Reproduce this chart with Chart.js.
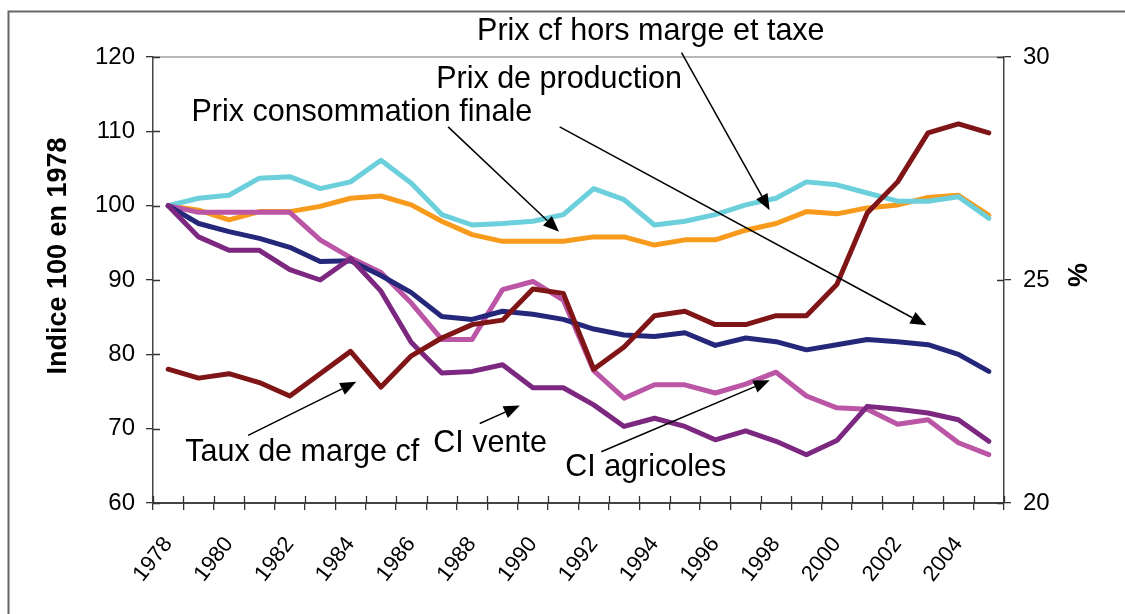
<!DOCTYPE html>
<html lang="fr">
<head>
<meta charset="utf-8">
<title>Prix et taux de marge</title>
<script src="https://cdn.jsdelivr.net/npm/chart.js@4.4.1/dist/chart.umd.min.js"></script>
<style>
  html, body { margin: 0; padding: 0; background: #fff; }
  #chart { display: block; }
</style>
</head>
<body>
<canvas id="chart" width="1125" height="614"></canvas>
<script>
/* ---------- series (indice 100 en 1978, taux de marge en %) ---------- */

const years = [1978, 1979, 1980, 1981, 1982, 1983, 1984, 1985, 1986, 1987,
  1988, 1989, 1990, 1991, 1992, 1993, 1994, 1995, 1996, 1997,
  1998, 1999, 2000, 2001, 2002, 2003, 2004, 2005];

const prixCfHorsMarge = [100, 101.0, 101.4, 103.7, 103.9, 102.3, 103.2, 106.1, 103.0, 98.8,
  97.4, 97.6, 97.9, 98.8, 102.3, 100.8, 97.4, 97.9, 98.8, 100.1,
  101.0, 103.2, 102.8, 101.7, 100.6, 100.6, 101.2, 98.3];

const prixConsoFinale = [100, 99.4, 98.1, 99.2, 99.2, 99.9, 101.0, 101.3, 100.1, 97.9,
  96.1, 95.2, 95.2, 95.2, 95.8, 95.8, 94.7, 95.4, 95.4, 96.7,
  97.6, 99.2, 98.9, 99.7, 100.1, 101.1, 101.4, 98.7];

const prixProduction = [100, 97.6, 96.5, 95.6, 94.4, 92.5, 92.6, 90.6, 88.3, 85.1,
  84.7, 85.8, 85.4, 84.7, 83.4, 82.6, 82.4, 82.9, 81.2, 82.2,
  81.7, 80.6, 81.3, 82.0, 81.7, 81.3, 80.0, 77.7];

const ciAgricoles = [100, 99.1, 99.1, 99.1, 99.1, 95.4, 93.0, 91.0, 86.9, 82.0,
  82.0, 88.7, 89.8, 87.3, 77.8, 74.1, 75.9, 75.9, 74.8, 76.0,
  77.6, 74.4, 72.8, 72.6, 70.6, 71.2, 68.1, 66.5];

const ciVente = [100, 95.8, 94.0, 94.0, 91.4, 90.0, 92.9, 88.5, 81.6, 77.5,
  77.7, 78.6, 75.5, 75.5, 73.2, 70.3, 71.4, 70.3, 68.5, 69.7,
  68.3, 66.5, 68.4, 73.0, 72.6, 72.1, 71.2, 68.3];

const tauxMargeCf = [23.0, 22.8, 22.9, 22.7, 22.4, 22.9, 23.4, 22.6, 23.3, 23.7,
  24.0, 24.1, 24.8, 24.7, 23.0, 23.5, 24.2, 24.3, 24.0, 24.0,
  24.2, 24.2, 24.9, 26.5, 27.2, 28.3, 28.5, 28.3];

const indexTicks = [60, 70, 80, 90, 100, 110, 120];
const rateTicks = [20, 25, 30];

/* ---------- callouts: text centre and arrow, in (year index, value) ---------- */

const callouts = [
  { text: 'Prix cf hors marge et taxe', at: [15.88, 123.4], from: [16.89, 120.6], to: [19.79, 99.4] },
  { text: 'Prix de production',         at: [12.86, 117.0], from: [12.88, 110.6], to: [24.95, 83.9] },
  { text: 'Prix consommation finale',   at: [6.37, 112.5],  from: [9.21, 110.6],  to: [12.86, 96.5] },
  { text: 'Taux de marge cf',           at: [4.41, 66.8],   from: [2.63, 69.1],   to: [6.19, 76.3] },
  { text: 'CI vente',                   at: [10.59, 68.0],  from: [10.25, 70.7],  to: [11.57, 73.1] },
  { text: 'CI agricoles',               at: [15.71, 64.7],  from: [14.25, 66.9],  to: [19.79, 76.5] }
];

const FONT = "'Liberation Sans', Arial, sans-serif";
const TICK = 7;

function series(label, data, color, axis) {
  return {
    label, data,
    yAxisID: axis || 'y',
    borderColor: color,
    backgroundColor: color,
    borderWidth: 5,
    borderJoinStyle: 'round',
    borderCapStyle: 'round',
    pointRadius: 0,
    tension: 0
  };
}

function drawArrow(ctx, x0, y0, x1, y1) {
  const ang = Math.atan2(y1 - y0, x1 - x0);
  const len = 16, half = 6.5;
  const bx = x1 - len * Math.cos(ang), by = y1 - len * Math.sin(ang);
  ctx.beginPath();
  ctx.moveTo(x0, y0);
  ctx.lineTo(bx, by);
  ctx.stroke();
  ctx.beginPath();
  ctx.moveTo(x1, y1);
  ctx.lineTo(bx + half * Math.sin(ang), by - half * Math.cos(ang));
  ctx.lineTo(bx - half * Math.sin(ang), by + half * Math.cos(ang));
  ctx.closePath();
  ctx.fill();
}

const decor = {
  id: 'decor',
  beforeDraw(chart) {
    const { ctx, chartArea: a } = chart;
    ctx.save();
    ctx.fillStyle = '#fff';
    ctx.fillRect(0, 0, chart.width, chart.height);
    // outer frame (left and top edges only are visible)
    ctx.strokeStyle = '#666';
    ctx.lineWidth = 2;
    ctx.beginPath();
    ctx.moveTo(8.5, chart.height);
    ctx.lineTo(8.5, 11.5);
    ctx.lineTo(chart.width, 11.5);
    ctx.stroke();
    // plot area top edge
    ctx.strokeStyle = '#a0a0a0';
    ctx.lineWidth = 1.5;
    ctx.beginPath();
    ctx.moveTo(a.left, a.top);
    ctx.lineTo(a.right, a.top);
    ctx.stroke();
    ctx.restore();
  },
  afterDraw(chart) {
    const { ctx, chartArea: a, scales } = chart;
    const x = scales.x, y = scales.y, y1 = scales.y1;
    ctx.save();

    // inner half of the cross tick marks
    ctx.strokeStyle = '#333';
    ctx.lineWidth = 1.3;
    ctx.beginPath();
    for (const v of indexTicks) {
      const p = Math.round(y.getPixelForValue(v)) + 0.5;
      ctx.moveTo(a.left, p); ctx.lineTo(a.left + TICK, p);
    }
    for (const v of rateTicks) {
      const p = Math.round(y1.getPixelForValue(v)) + 0.5;
      ctx.moveTo(a.right - TICK, p); ctx.lineTo(a.right, p);
    }
    for (let i = 0; i <= years.length; i++) {
      const p = Math.round(x.getPixelForValue(i - 0.5)) + 0.5;
      ctx.moveTo(p, a.bottom - TICK); ctx.lineTo(p, a.bottom);
    }
    ctx.stroke();

    // axis titles
    ctx.fillStyle = '#000';
    ctx.font = 'bold 27px ' + FONT;
    ctx.textAlign = 'center';
    ctx.textBaseline = 'middle';
    ctx.save();
    ctx.translate(59, 256);
    ctx.rotate(-Math.PI / 2);
    ctx.fillText('Indice 100 en 1978', 0, 0);
    ctx.restore();
    ctx.save();
    ctx.translate(1080, 275);
    ctx.rotate(-Math.PI / 2);
    ctx.fillText('%', 0, 0);
    ctx.restore();

    // callouts
    ctx.font = '30.5px ' + FONT;
    ctx.strokeStyle = '#000';
    ctx.lineWidth = 1.5;
    for (const c of callouts) {
      ctx.fillText(c.text, x.getPixelForValue(c.at[0]), y.getPixelForValue(c.at[1]));
      drawArrow(ctx,
        x.getPixelForValue(c.from[0]), y.getPixelForValue(c.from[1]),
        x.getPixelForValue(c.to[0]), y.getPixelForValue(c.to[1]));
    }
    ctx.restore();
  }
};

const tickFont = { family: FONT, size: 24 };

new Chart(document.getElementById('chart'), {
  type: 'line',
  data: {
    labels: years,
    datasets: [
      series('Taux de marge cf', tauxMargeCf, '#801517', 'y1'),
      series('CI vente', ciVente, '#7c2880'),
      series('Prix de production', prixProduction, '#25287a'),
      series('CI agricoles', ciAgricoles, '#bb55a5'),
      series('Prix cf hors marge et taxe', prixCfHorsMarge, '#6ccfdc'),
      series('Prix consommation finale', prixConsoFinale, '#f89a1c')
    ]
  },
  options: {
    responsive: false,
    animation: false,
    devicePixelRatio: 1,
    layout: { padding: { top: 57, left: 0, right: 0, bottom: 0 } },
    plugins: { legend: { display: false }, tooltip: { enabled: false } },
    scales: {
      x: {
        type: 'category',
        offset: true,
        grid: { offset: true, drawOnChartArea: false, tickLength: TICK, color: '#333', lineWidth: 1.3 },
        border: { display: true, color: '#444', width: 2 },
        ticks: {
          autoSkip: false,
          minRotation: 52,
          maxRotation: 52,
          padding: 22,
          color: '#000',
          font: { family: FONT, size: 22 },
          callback: (v, i) => (i % 2 === 0 ? String(years[i]) : '')
        },
        afterFit: s => { s.height = 111; }
      },
      y: {
        position: 'left',
        min: 60, max: 120,
        grid: { drawOnChartArea: false, tickLength: TICK, color: '#333', lineWidth: 1.3 },
        border: { display: true, color: '#444', width: 1.5 },
        ticks: { stepSize: 10, padding: 11, color: '#000', font: tickFont },
        afterFit: s => { s.width = 153; }
      },
      y1: {
        position: 'right',
        min: 20, max: 30,
        grid: { drawOnChartArea: false, tickLength: TICK, color: '#333', lineWidth: 1.3 },
        border: { display: true, color: '#444', width: 1.5 },
        ticks: { stepSize: 5, padding: 12, color: '#000', font: tickFont },
        afterFit: s => { s.width = 121; }
      }
    }
  },
  plugins: [decor]
});
</script>
</body>
</html>
